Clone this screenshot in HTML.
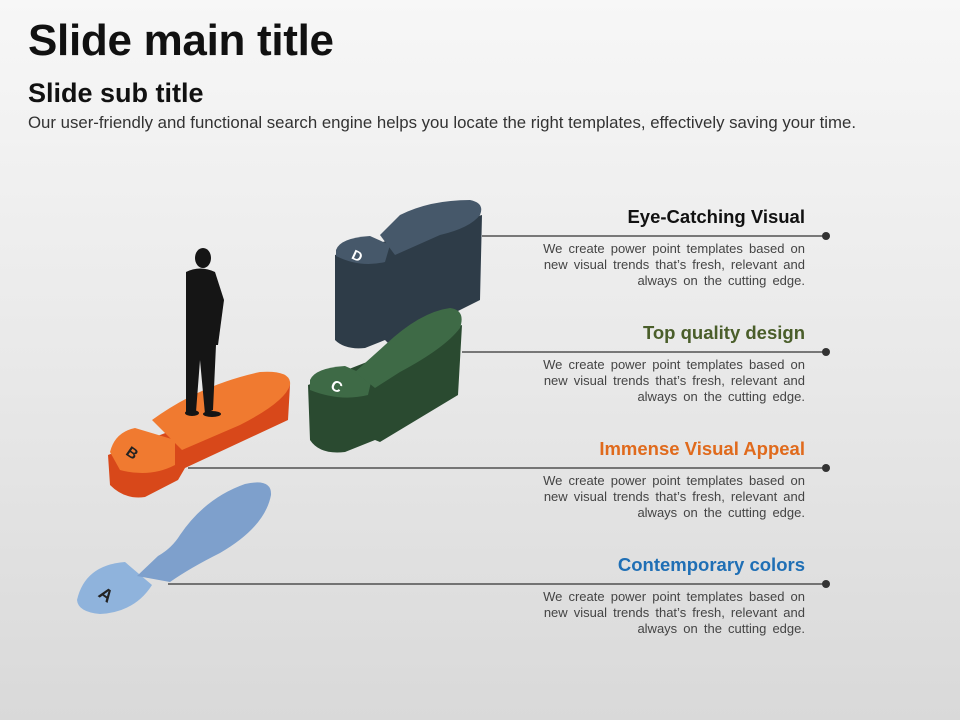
<!DOCTYPE html>
<html><head><meta charset="utf-8"><style>
body{margin:0;width:960px;height:720px;overflow:hidden;font-family:"Liberation Sans",sans-serif;background:linear-gradient(#f7f7f7,#e9e9e9 50%,#d9d9d9);position:relative}
.t{position:absolute;left:28px;white-space:nowrap;color:#111}
.h{position:absolute;right:155px;font-weight:bold;font-size:18.5px;white-space:nowrap}
.p{position:absolute;right:155px;font-size:13px;line-height:16px;color:#444;text-align:right;white-space:nowrap;word-spacing:2.5px}
</style></head><body>
<div class="t" style="top:16px;font-size:44px;font-weight:bold;letter-spacing:-0.3px">Slide main title</div>
<div class="t" style="top:78px;font-size:27px;font-weight:bold">Slide sub title</div>
<div class="t" style="top:113px;font-size:16.8px;color:#333">Our user-friendly and functional search engine helps you locate the right templates, effectively saving your time.</div>
<svg width="960" height="720" style="position:absolute;left:0;top:0">
<g stroke="#333" stroke-width="1.2">
<line x1="482" y1="236" x2="826" y2="236"/><line x1="462" y1="352" x2="826" y2="352"/>
<line x1="188" y1="468" x2="826" y2="468"/><line x1="168" y1="584" x2="826" y2="584"/>
</g>
<g fill="#333"><circle cx="826" cy="236" r="4"/><circle cx="826" cy="352" r="4"/><circle cx="826" cy="468" r="4"/><circle cx="826" cy="584" r="4"/></g>
<path d="M335,255 L335,340 Q345,350 365,348 L385,340 L390,345 L480,300 L482,215 Z" fill="#2e3c48"/>
<path d="M336,250 Q340,238 370,236 L390,245 L385,262 Q360,268 336,256Z" fill="#46586a"/>
<path d="M380,235 L400,215 Q430,200 470,200 Q485,203 480,215 Q470,228 440,235 L395,255Z" fill="#46586a"/>
<text x="352" y="262" fill="#fff" font-size="14" font-weight="bold" transform="rotate(25 360 257)">D</text>
<path d="M308,385 L310,440 Q320,455 345,452 L375,440 L380,442 L458,395 L462,325 Z" fill="#2a4a30"/>
<path d="M310,380 Q315,368 345,366 L372,378 L368,395 Q340,402 310,390Z" fill="#3e6a46"/>
<path d="M355,372 L385,345 Q420,312 450,308 Q466,310 460,328 Q445,348 400,372 L375,388Z" fill="#3e6a46"/>
<text x="332" y="392" fill="#fff" font-size="15" font-weight="bold" transform="rotate(25 338 385)">C</text>
<path d="M108,455 L110,485 Q125,500 145,497 L178,480 L185,468 L288,420 L290,385 Z" fill="#d8481a"/>
<path d="M110,452 Q115,432 135,428 L175,440 L175,465 Q150,478 120,470Z" fill="#f07a30"/>
<path d="M152,420 Q200,385 260,372 Q292,370 290,385 Q285,402 240,425 L182,450Z" fill="#f07a30"/>
<text x="128" y="460" fill="#222" font-size="15" font-weight="bold" transform="rotate(35 136 452)">B</text>
<path d="M77,600 Q85,565 125,562 L152,585 Q135,612 100,614 Q78,612 77,600Z" fill="#8fb3dc"/>
<path d="M137,576 L158,556 Q172,548 180,535 Q205,498 245,484 Q272,478 271,495 Q265,527 220,553 Q190,568 170,582 Z" fill="#7ea0cc"/>
<text x="100" y="603" fill="#222" font-size="18" font-weight="bold" transform="rotate(35 110 595)">A</text>
<g fill="#151515">
<ellipse cx="203" cy="258" rx="8" ry="10"/>
<path d="M186,272 Q200,265 215,272 L224,300 L218,345 L186,345 Z"/>
<path d="M186,345 L216,345 L213,410 L205,414 L200,360 L196,412 L186,412Z"/>
<ellipse cx="192" cy="413" rx="7" ry="3"/><ellipse cx="212" cy="414" rx="9" ry="3"/>
</g>
</svg>
<div class="h" style="top:206px;color:#111">Eye-Catching Visual</div>
<div class="p" style="top:241px">We create power point templates based on<br>new visual trends that’s fresh, relevant and<br>always on the cutting edge.</div>
<div class="h" style="top:322px;color:#4a5e2a">Top quality design</div>
<div class="p" style="top:357px">We create power point templates based on<br>new visual trends that’s fresh, relevant and<br>always on the cutting edge.</div>
<div class="h" style="top:438px;color:#e06a1c">Immense Visual Appeal</div>
<div class="p" style="top:473px">We create power point templates based on<br>new visual trends that’s fresh, relevant and<br>always on the cutting edge.</div>
<div class="h" style="top:554px;color:#1f6fb5">Contemporary colors</div>
<div class="p" style="top:589px">We create power point templates based on<br>new visual trends that’s fresh, relevant and<br>always on the cutting edge.</div>
</body></html>
